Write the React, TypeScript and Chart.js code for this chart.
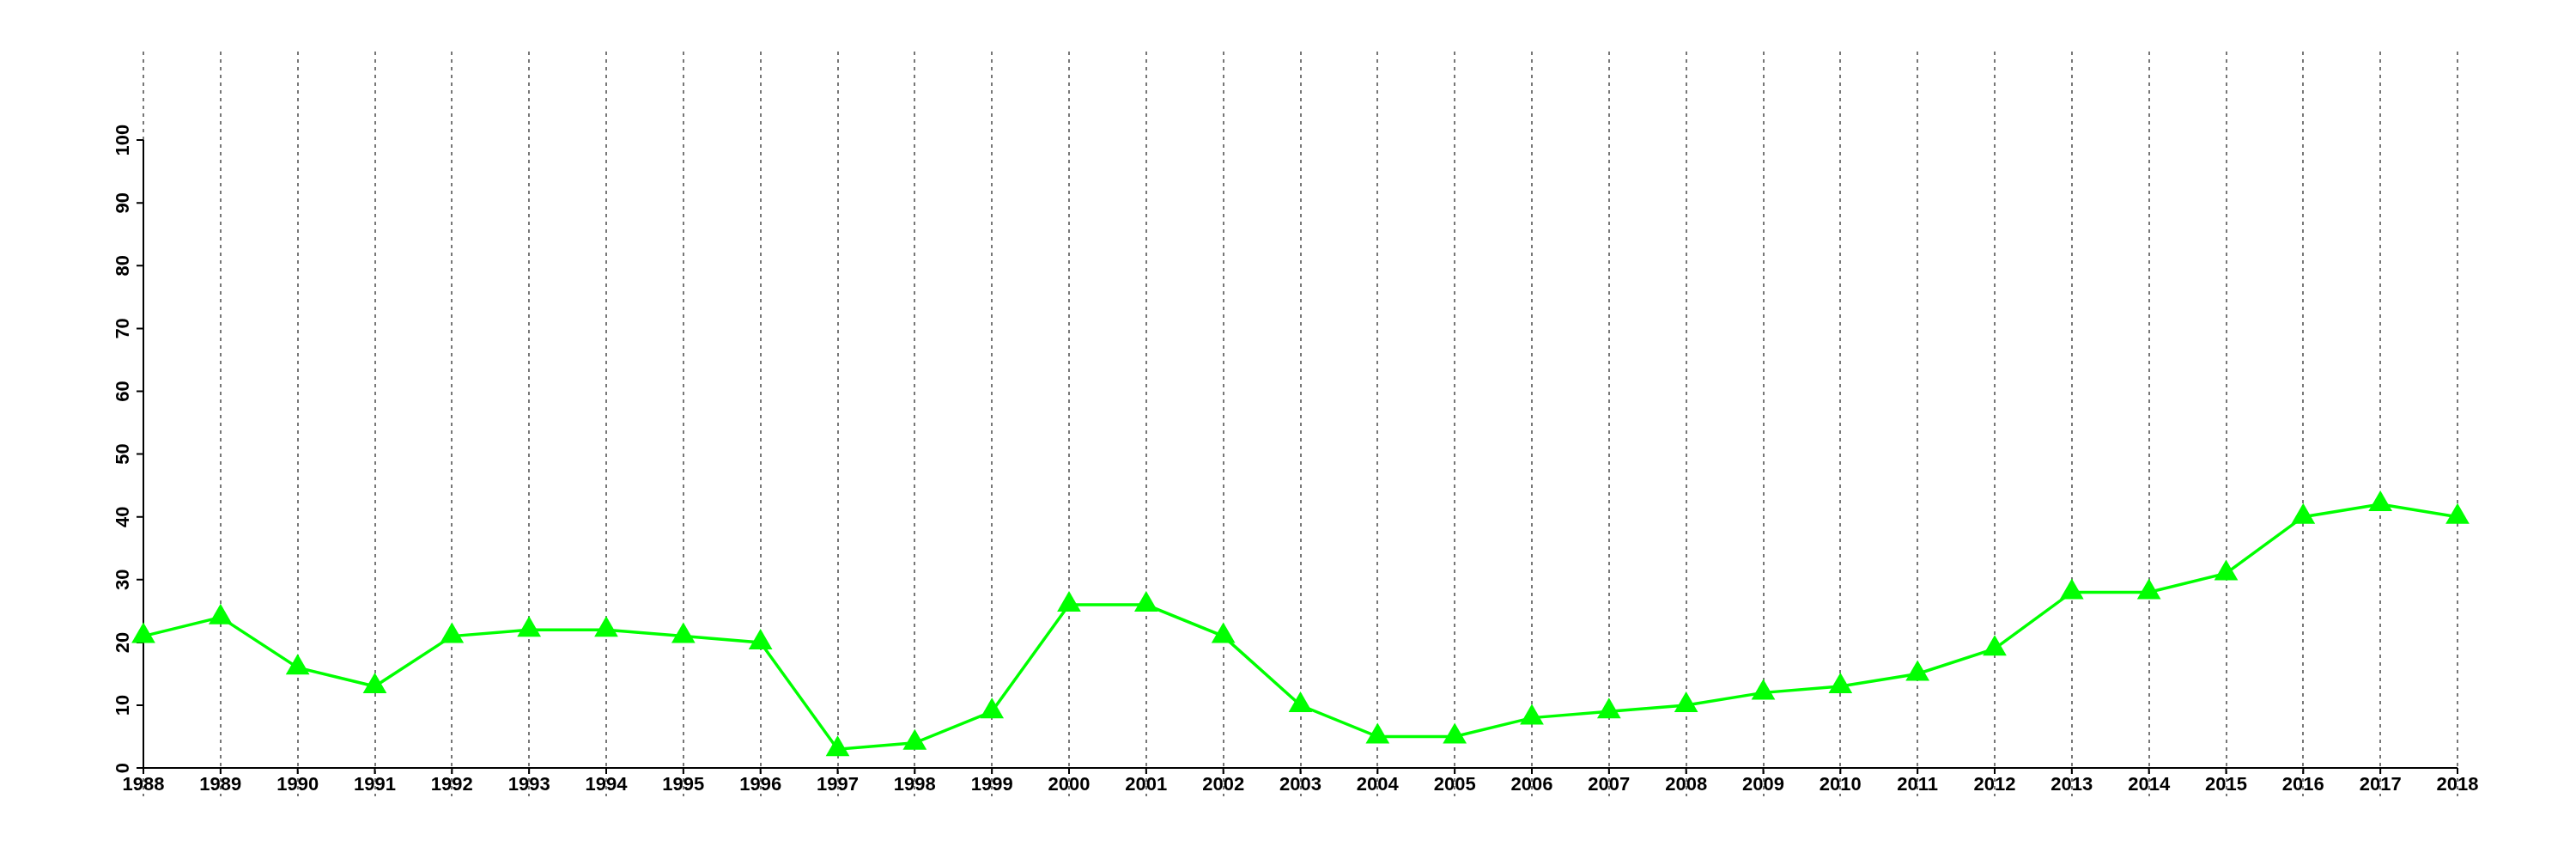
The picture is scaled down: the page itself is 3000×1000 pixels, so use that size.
import React, { useEffect, useRef } from "react";
import { Chart, registerables } from "chart.js";

Chart.register(...registerables);

const years = [
  "1988", "1989", "1990", "1991", "1992", "1993", "1994", "1995", "1996", "1997",
  "1998", "1999", "2000", "2001", "2002", "2003", "2004", "2005", "2006", "2007",
  "2008", "2009", "2010", "2011", "2012", "2013", "2014", "2015", "2016", "2017", "2018",
];
const values = [
  21, 24, 16, 13, 21, 22, 22, 21, 20, 3,
  4, 9, 26, 26, 21, 10, 5, 5, 8, 9,
  10, 12, 13, 15, 19, 28, 28, 31, 40, 42, 40,
];
const yTicks = [0, 10, 20, 30, 40, 50, 60, 70, 80, 90, 100];

const FONT = 'bold 22px "Liberation Sans", Arial, sans-serif';

const axesPlugin = {
  id: "rAxes",
  beforeDatasetsDraw(chart: any) {
    const ctx = chart.ctx;
    const xs = chart.scales.x;
    const ys = chart.scales.y;
    const x0 = xs.getPixelForValue(0);
    const x1 = xs.getPixelForValue(years.length - 1);
    const y0 = ys.getPixelForValue(yTicks[0]);
    const y1 = ys.getPixelForValue(yTicks[yTicks.length - 1]);
    ctx.save();
    ctx.strokeStyle = "#000";
    ctx.lineWidth = 2;
    ctx.setLineDash([]);
    // x axis
    ctx.beginPath();
    ctx.moveTo(x0, y0);
    ctx.lineTo(x1, y0);
    years.forEach((_, i) => {
      const px = xs.getPixelForValue(i);
      ctx.moveTo(px, y0);
      ctx.lineTo(px, y0 + 7);
    });
    // y axis
    ctx.moveTo(x0, y0);
    ctx.lineTo(x0, y1);
    yTicks.forEach((v) => {
      const py = ys.getPixelForValue(v);
      ctx.moveTo(x0, py);
      ctx.lineTo(x0 - 8, py);
    });
    ctx.stroke();

    ctx.fillStyle = "#000";
    ctx.font = FONT;
    ctx.textAlign = "center";
    ctx.textBaseline = "alphabetic";
    years.forEach((lab, i) => {
      const px = xs.getPixelForValue(i);
      ctx.fillText(lab, px, y0 + 26);
    });
    yTicks.forEach((v) => {
      const py = ys.getPixelForValue(v);
      ctx.save();
      ctx.translate(x0 - 17, py);
      ctx.rotate(-Math.PI / 2);
      ctx.fillText(String(v), 0, 0);
      ctx.restore();
    });
    ctx.restore();
  },
};

export default function App() {
  const ref = useRef<HTMLCanvasElement | null>(null);
  useEffect(() => {
    if (!ref.current) return;
    const chart = new Chart(ref.current, {
      type: "line",
      data: {
        labels: years,
        datasets: [
          {
            data: values,
            borderColor: "#00ff00",
            backgroundColor: "#00ff00",
            borderWidth: 3.5,
            tension: 0,
            pointStyle: "triangle",
            pointRadius: 16,
            pointHoverRadius: 16,
            pointBorderWidth: 0,
            pointBackgroundColor: "#00ff00",
            clip: false as any,
          },
        ],
      },
      options: {
        responsive: false,
        animation: false,
        layout: { padding: { left: 167, right: 138, top: 60, bottom: 73 } },
        plugins: { legend: { display: false }, tooltip: { enabled: false } },
        scales: {
          x: {
            type: "category",
            offset: false,
            ticks: { display: false },
            grid: { color: "#777777", lineWidth: 2, drawTicks: false },
            border: { display: false, dash: [4, 5] },
          },
          y: {
            display: false,
            min: -4.5,
            max: 114.1,
          },
        },
      },
      plugins: [axesPlugin],
    });
    return () => chart.destroy();
  }, []);
  return (
    <div style={{ position: "fixed", left: 0, top: 0, width: 3000, height: 1000, background: "#fff" }}>
      <canvas ref={ref} width={3000} height={1000} style={{ width: 3000, height: 1000, display: "block" }} />
    </div>
  );
}
